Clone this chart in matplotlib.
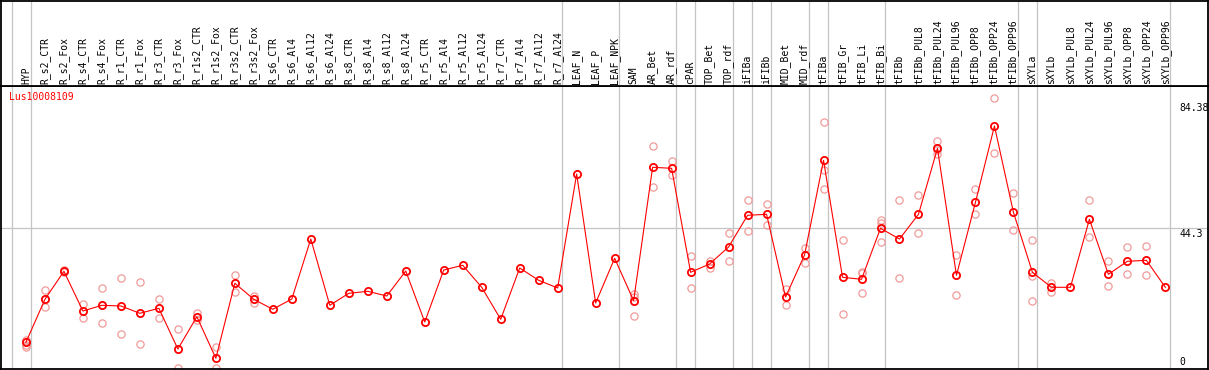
import matplotlib
matplotlib.use("Agg")
import matplotlib.pyplot as plt

plt.rcParams['font.family'] = ['DejaVu Sans Mono']

# ---------------- data ----------------
series_name = "Lus10008109"

categories = [
    "HYP", "R_s2_CTR", "R_s2_Fox", "R_s4_CTR", "R_s4_Fox", "R_r1_CTR", "R_r1_Fox",
    "R_r3_CTR", "R_r3_Fox", "R_r1s2_CTR", "R_r1s2_Fox", "R_r3s2_CTR", "R_r3s2_Fox",
    "R_s6_CTR", "R_s6_Al4", "R_s6_Al12", "R_s6_Al24", "R_s8_CTR", "R_s8_Al4",
    "R_s8_Al12", "R_s8_Al24", "R_r5_CTR", "R_r5_Al4", "R_r5_Al12", "R_r5_Al24",
    "R_r7_CTR", "R_r7_Al4", "R_r7_Al12", "R_r7_Al24", "LEAF_N", "LEAF_P", "LEAF_NPK",
    "SAM", "AR_Bet", "AR_rdf", "cPAR", "TOP_Bet", "TOP_rdf", "iFIBa", "iFIBb",
    "MID_Bet", "MID_rdf", "tFIBa", "tFIB_Gr", "tFIB_Li", "tFIB_Bi", "tFIBb",
    "tFIBb_PUL8", "tFIBb_PUL24", "tFIBb_PUL96", "tFIBb_OPP8", "tFIBb_OPP24",
    "tFIBb_OPP96", "sXYLa", "sXYLb", "sXYLb_PUL8", "sXYLb_PUL24", "sXYLb_PUL96",
    "sXYLb_OPP8", "sXYLb_OPP24", "sXYLb_OPP96",
]

means = [
    8.03, 21.72, 30.64, 17.99, 19.81, 19.59, 17.26, 18.85, 5.89, 16.18, 2.93,
    26.82, 21.72, 18.54, 21.82, 40.92, 19.81, 23.63, 24.27, 22.77, 30.73, 14.49,
    31.05, 32.55, 25.54, 15.35, 31.69, 27.77, 25.32, 61.62, 20.54, 34.78,
    21.27, 63.76, 63.44, 30.32, 32.96, 38.38, 48.47, 48.79, 22.45, 35.83,
    65.99, 28.73, 28.09, 44.33, 40.92, 48.79, 69.81, 29.36, 52.61, 76.91,
    49.43, 30.32, 25.54, 25.54, 47.20, 29.68, 33.82, 34.14, 25.54,
]

replicates = [
    [8.76, 7.01, 6.62], [24.59, 21.7, 19.17], [30.96, 30.32], [20.13, 15.67],
    [25.22, 14.08], [28.41, 10.57], [27.13, 7.39], [21.72, 15.67],
    [12.36, 0.0], [17.26, 15.13], [6.43, 0.0], [29.46, 24.14], [22.87, 20.64],
    [], [], [], [], [], [], [], [], [], [], [], [], [], [], [], [], [], [], [],
    [23.31, 22.61, 16.31], [70.54, 57.39], [65.76, 61.31], [35.51, 25.22],
    [33.92, 31.78], [42.74, 33.82], [53.25, 43.38], [51.97, 45.29],
    [24.90, 19.81], [37.96, 33.38], [78.18, 62.90, 56.75], [40.51, 17.04],
    [30.51, 30.10, 23.63], [46.97, 45.92, 40.06], [53.25, 28.41],
    [54.84, 42.74], [72.13, 67.99, 69.27], [35.73, 22.99], [56.75, 48.79],
    [85.73, 68.22], [55.48, 43.69], [40.51, 29.14, 21.18], [27.01, 23.95],
    [], [53.25, 41.46], [33.82, 25.96], [38.38, 29.68], [38.69, 29.36], [],
]

# last category index of each group (separator drawn after it)
group_ends = [-1, 0, 28, 31, 34, 35, 37, 38, 39, 41, 42, 45, 52, 53, 60]

y_tick_values = [84.38, 44.3, 0]
y_tick_labels = ["84.38", "44.3", "0"]
y_grid_values = [44.3]

# ---------------- layout ----------------
W, H = 1209, 370
fig = plt.figure(figsize=(W / 100, H / 100), dpi=100)

def fx(px):
    return px / W

def fy(py):
    return 1 - py / H

x0, dx = 25.95, 18.99          # pixel position of first column, spacing
def px_to_i(px):
    return (px - x0) / dx

y0px, ypx = 367.5, 3.14         # pixel row of value 0, pixels per unit
def py_to_v(py):
    return (y0px - py) / ypx

left_px, right_px = 1, 1208
head_top, head_bot, plot_bot = 0.5, 86, 369

ax = fig.add_axes([fx(left_px), fy(plot_bot), (right_px - left_px) / W,
                   (plot_bot - head_bot) / H])
hax = fig.add_axes([fx(left_px), fy(head_bot), (right_px - left_px) / W,
                    (head_bot - head_top) / H])

xlim = (px_to_i(left_px), px_to_i(right_px))
for a in (ax, hax):
    a.set_xlim(*xlim)
    a.set_xticks([])
    a.set_yticks([])
    for s in a.spines.values():
        s.set_linewidth(1.3)
        s.set_color("black")

ax.set_ylim(py_to_v(plot_bot), py_to_v(head_bot))
hax.set_ylim(head_bot, head_top)

grid_col = "#c4c4c4"
for g in group_ends:
    ax.axvline(g + 0.25, color=grid_col, lw=0.9, zorder=0)
    hax.axvline(g + 0.25, color=grid_col, lw=0.9, zorder=0)
for gv in y_grid_values:
    ax.axhline(gv, color=grid_col, lw=0.9, zorder=0)

xs = list(range(len(categories)))

# replicates
rx, ry = [], []
for i, reps in enumerate(replicates):
    for r in reps:
        rx.append(i)
        ry.append(r)
ax.plot(rx, ry, linestyle="none", marker="o", ms=5.2, mfc="none",
        mec="#f09a9a", mew=0.9, zorder=2, clip_on=True)

# mean line
ax.plot(xs, means, color="red", lw=0.8, zorder=3)
ax.plot(xs, means, linestyle="none", marker="o", ms=5.2, mfc="none",
        mec="red", mew=1.3, zorder=4)

# header labels
for i, lab in enumerate(categories):
    hax.text(i, 83.6, lab, rotation=90, ha="center", va="bottom",
             fontsize=7, color="black")

# right value labels
lab_x = px_to_i(1179)
for v, t in zip(y_tick_values, y_tick_labels):
    if v == 0:
        ax.annotate(t, xy=(lab_x, v), xytext=(0, 2.5), textcoords="offset pixels",
                    ha="left", va="baseline", fontsize=7, color="black")
    else:
        ax.annotate(t, xy=(lab_x, v), xytext=(0, -0.5), textcoords="offset pixels",
                    ha="left", va="top", fontsize=7, color="black")

fig.text(fx(9.3), fy(97.3), series_name, ha="left", va="center",
         fontsize=7, color="red")

fig.savefig("out.png", dpi=100)
